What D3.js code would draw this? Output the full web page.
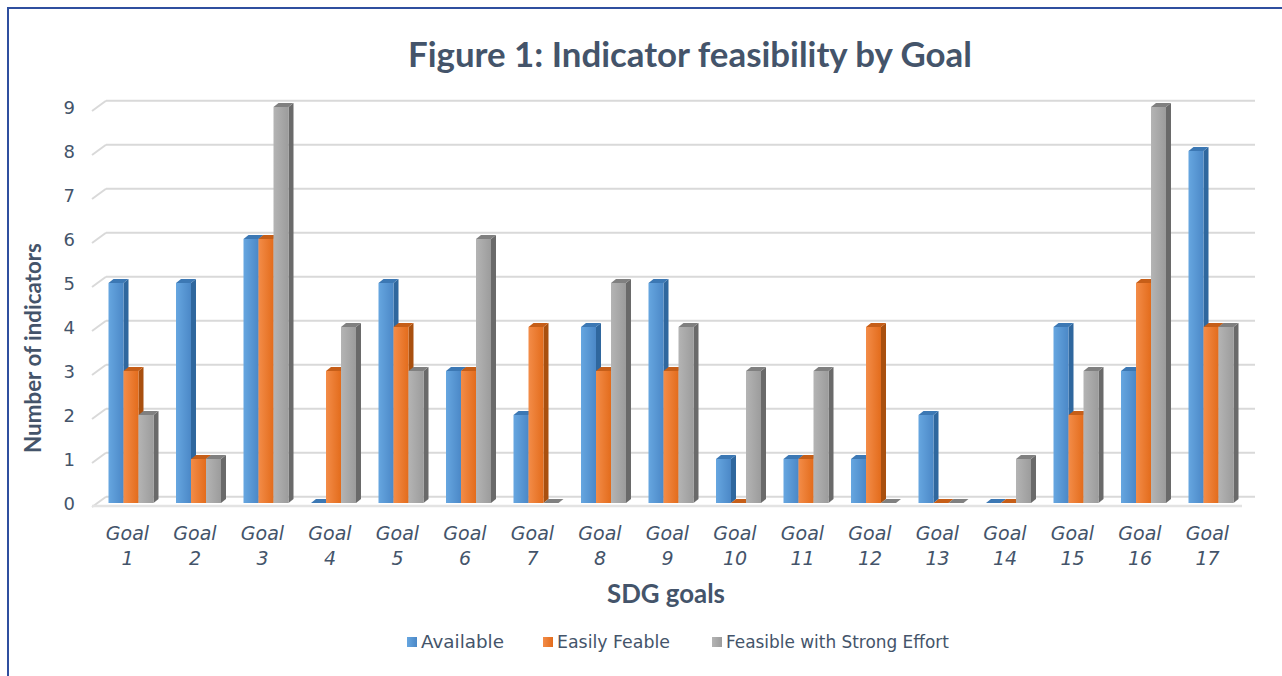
<!DOCTYPE html>
<html><head><meta charset="utf-8">
<script src="https://cdn.jsdelivr.net/npm/d3@7"></script>
<style>html,body{margin:0;padding:0;background:#fff;}svg{display:block;}</style>
</head><body>
<svg id="c" width="1282" height="676"></svg>
<script>
const goals = ["1","2","3","4","5","6","7","8","9","10","11","12","13","14","15","16","17"];
const seriesNames = ["Available","Easily Feable","Feasible with Strong Effort"];
const available = [5,5,6,0,5,3,2,4,5,1,1,1,2,0,4,3,8];
const easily    = [3,1,6,3,4,3,4,3,3,0,1,4,0,0,2,5,4];
const strong    = [2,1,9,4,3,6,0,5,4,3,3,0,0,1,3,9,4];
const yTicks = [0,1,2,3,4,5,6,7,8,9];
const title = "Figure 1: Indicator feasibility by Goal";
const xTitle = "SDG goals";
const yTitle = "Number of indicators";

const values = [available, easily, strong];
const palette = [
  {a:"#66A6E0", b:"#4B88C7", side:"#2F679E", top:"#3C78B4"},
  {a:"#F38C48", b:"#E36C1C", side:"#A9500F", top:"#C65E18"},
  {a:"#B4B4B4", b:"#9C9C9C", side:"#6A6A6A", top:"#808080"}
];
const textCol = "#44546A";
const svg = d3.select("#c");
const defs = svg.append("defs");
palette.forEach((p,i)=>{
  const g = defs.append("linearGradient").attr("id","g"+i).attr("x1","0").attr("x2","1").attr("y1","0").attr("y2","0");
  g.append("stop").attr("offset","0").attr("stop-color",p.a);
  g.append("stop").attr("offset","1").attr("stop-color",p.b);
});

// frame
svg.append("rect").attr("x",8).attr("y",8).attr("width",1300).attr("height",700)
  .attr("fill","none").attr("stroke","#2F4F9F").attr("stroke-width",2);

const y = d3.scaleLinear().domain([0,9]).range([503,107]);
const x = d3.scaleBand().domain(goals).range([97.25,1244.75]).paddingInner(0).paddingOuter(0);
const xs = d3.scaleBand().domain([0,1,2]).range([-22.5,22.5]);
const wallDx = 14, wallBack = -6.3, wallFront = 4;
const dx = 5, dy = -4;

// side wall diagonals + back gridlines
const grid = svg.append("g");
yTicks.forEach(v=>{
  const yy = y(v);
  grid.append("line").attr("x1",92).attr("y1",yy+wallFront).attr("x2",92+wallDx).attr("y2",yy+wallBack)
    .attr("stroke","#D9D9D9").attr("stroke-width",2);
  grid.append("line").attr("x1",92+wallDx).attr("y1",yy+wallBack).attr("x2",1255).attr("y2",yy+wallBack)
    .attr("stroke","#D9D9D9").attr("stroke-width",2);
});
// floor front edge
grid.append("line").attr("x1",92).attr("y1",y(0)+3).attr("x2",1242).attr("y2",y(0)+3)
  .attr("stroke","#E3E3E3").attr("stroke-width",2.5);

// bars
const bars = svg.append("g");
goals.forEach((gname,gi)=>{
  const cx = x(gname) + x.bandwidth()/2;
  [0,1,2].forEach(si=>{
    const v = values[si][gi];
    const x0 = cx + xs(si), w = xs.bandwidth();
    const yt = y(v), yb = y(0);
    const p = palette[si];
    const g = bars.append("g");
    g.append("path").attr("d",`M${x0+w},${yt} L${x0+w+dx},${yt+dy} L${x0+w+dx},${yb+dy} L${x0+w},${yb} Z`).attr("fill",p.side);
    g.append("path").attr("d",`M${x0},${yt} L${x0+dx},${yt+dy} L${x0+w+dx},${yt+dy} L${x0+w},${yt} Z`).attr("fill",p.top);
    if (v>0) g.append("rect").attr("x",x0).attr("y",yt).attr("width",w).attr("height",yb-yt).attr("fill",`url(#g${si})`);
  });
});

// y tick labels
svg.append("g").selectAll("text").data(yTicks).join("text")
  .attr("x",75).attr("y",d=>y(d)+2).attr("text-anchor","end").attr("dominant-baseline","middle")
  .attr("font-family","DejaVu Sans").attr("font-size",18).attr("fill",textCol).text(d=>d);

// x labels
const xl = svg.append("g").selectAll("g").data(goals).join("g")
  .attr("transform",d=>`translate(${x(d)+x.bandwidth()/2-3.5},0)`);
xl.append("text").attr("y",540).attr("text-anchor","middle").attr("font-family","DejaVu Sans").attr("font-style","italic")
  .attr("font-size",19).attr("fill",textCol).text("Goal");
xl.append("text").attr("y",565).attr("text-anchor","middle").attr("font-family","DejaVu Sans").attr("font-style","italic")
  .attr("font-size",19).attr("fill",textCol).text(d=>d);

function fit(t, target){ const w = t.node().getComputedTextLength(); const s = +t.attr("font-size"); t.attr("font-size", s*target/w); }

// titles
const tt = svg.append("text").attr("x",690).attr("y",67).attr("text-anchor","middle").attr("font-family","Lato")
  .attr("font-weight","bold").attr("font-size",28).attr("fill",textCol).text(title);
fit(tt,564);
const xt = svg.append("text").attr("x",666).attr("y",603).attr("text-anchor","middle").attr("font-family","Lato")
  .attr("font-weight","bold").attr("font-size",20).attr("fill",textCol).text(xTitle);
fit(xt,118);
const yt = svg.append("text").attr("transform","translate(41,348) rotate(-90)").attr("text-anchor","middle").attr("font-family","Lato")
  .attr("font-weight","bold").attr("font-size",18).attr("fill",textCol).text(yTitle);
fit(yt,210);

// legend
const legX = [407,543,712];
const legW = [83,113,223];
const lg = svg.append("g").selectAll("g").data(seriesNames).join("g").attr("transform",(d,i)=>`translate(${legX[i]},642)`);
lg.append("rect").attr("x",0).attr("y",-5).attr("width",10).attr("height",10).attr("fill",(d,i)=>`url(#g${i})`);
lg.append("text").attr("x",14).attr("y",1).attr("dominant-baseline","middle").attr("font-family","DejaVu Sans")
  .attr("font-size",17).attr("fill",textCol).text(d=>d)
  .each(function(d,i){ fit(d3.select(this), legW[i]); });
</script>
</body></html>
